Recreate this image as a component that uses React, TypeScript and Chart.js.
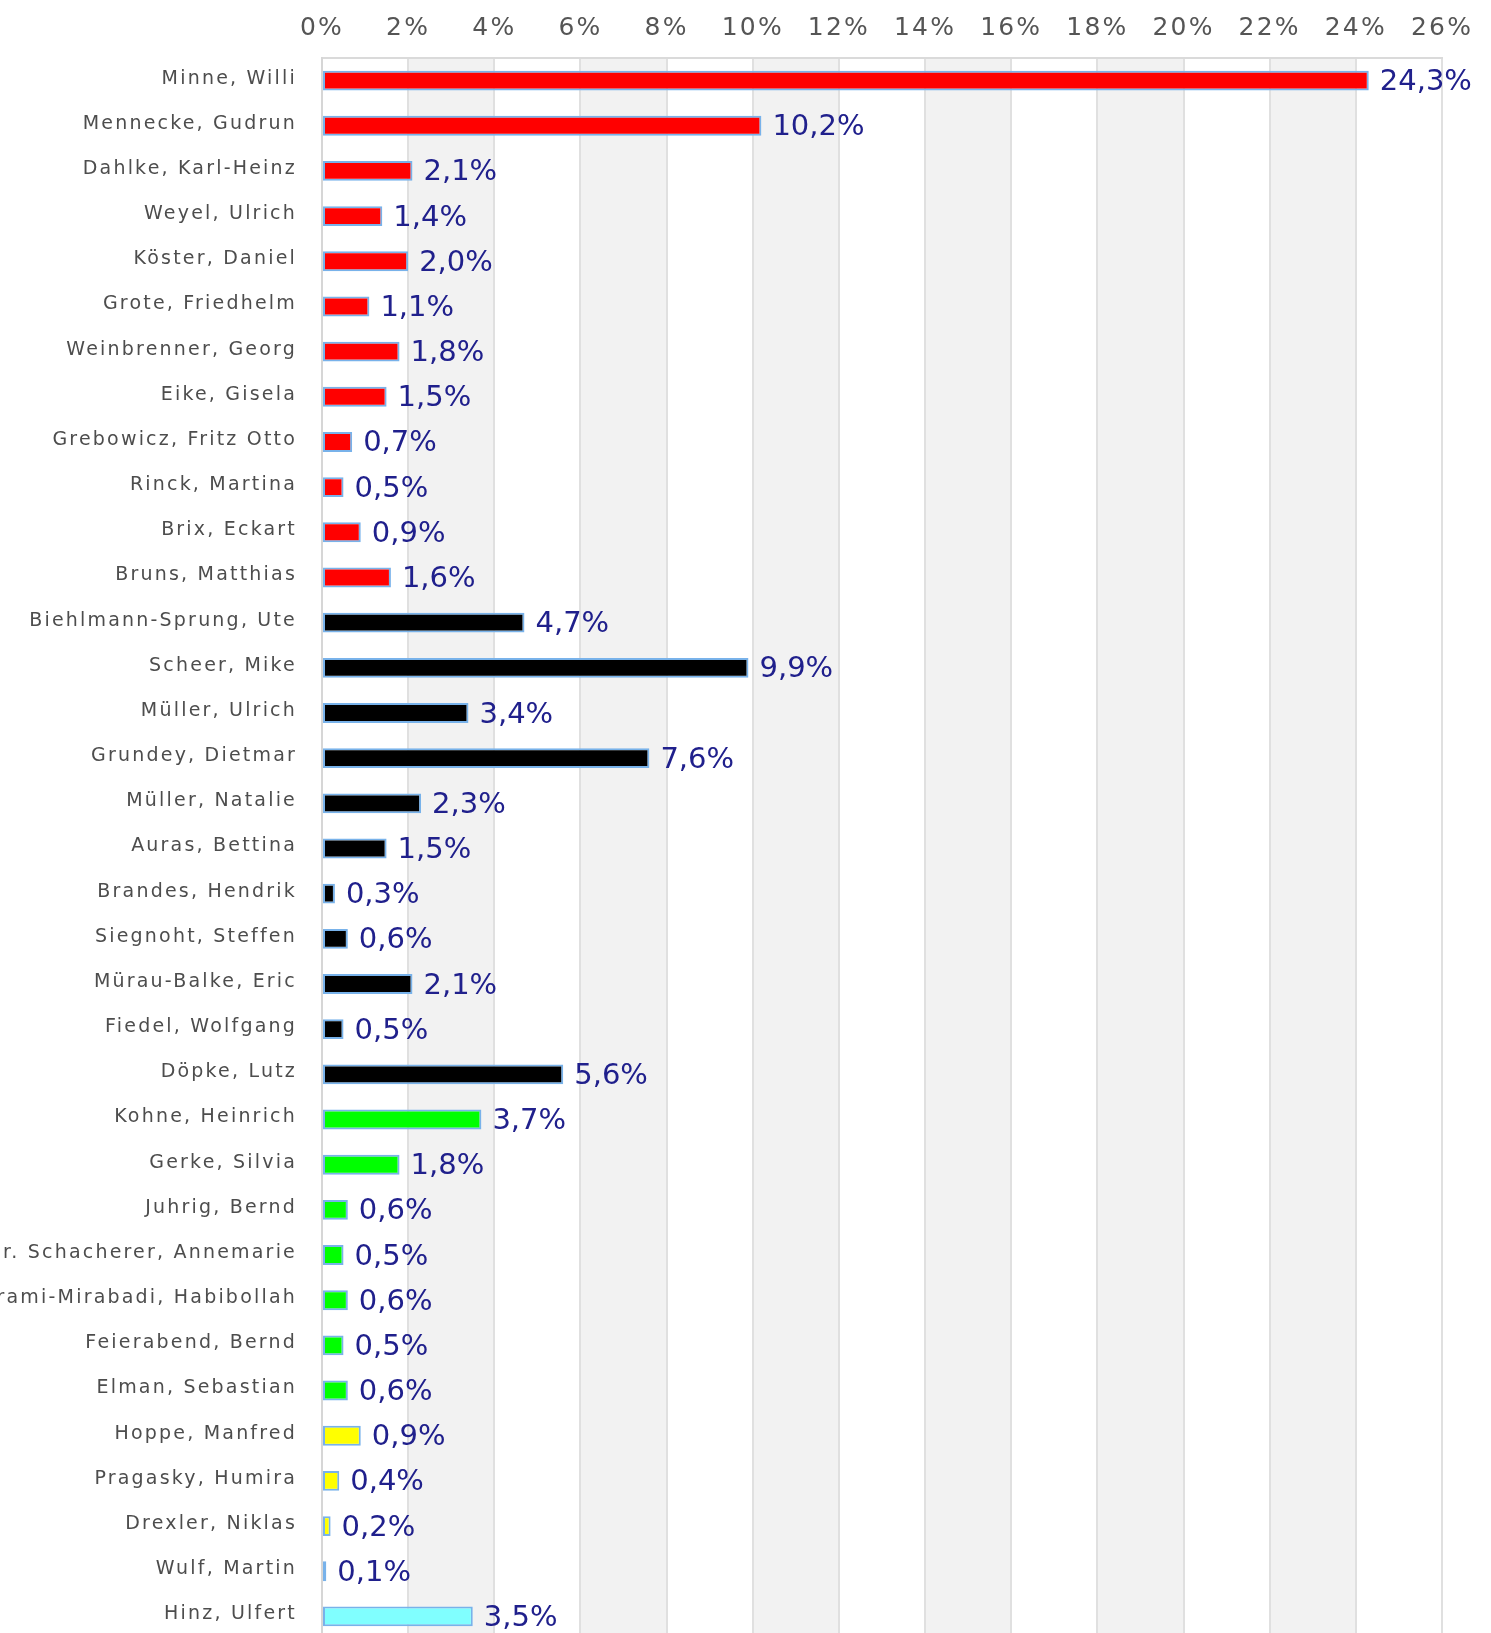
import React, { useEffect, useRef } from 'react';
import { Chart, registerables } from 'chart.js';

Chart.register(...registerables);

const categories: string[] = [
  'Minne, Willi',
  'Mennecke, Gudrun',
  'Dahlke, Karl-Heinz',
  'Weyel, Ulrich',
  'Köster, Daniel',
  'Grote, Friedhelm',
  'Weinbrenner, Georg',
  'Eike, Gisela',
  'Grebowicz, Fritz Otto',
  'Rinck, Martina',
  'Brix, Eckart',
  'Bruns, Matthias',
  'Biehlmann-Sprung, Ute',
  'Scheer, Mike',
  'Müller, Ulrich',
  'Grundey, Dietmar',
  'Müller, Natalie',
  'Auras, Bettina',
  'Brandes, Hendrik',
  'Siegnoht, Steffen',
  'Mürau-Balke, Eric',
  'Fiedel, Wolfgang',
  'Döpke, Lutz',
  'Kohne, Heinrich',
  'Gerke, Silvia',
  'Juhrig, Bernd',
  'Dr. Schacherer, Annemarie',
  'Bahrami-Mirabadi, Habibollah',
  'Feierabend, Bernd',
  'Elman, Sebastian',
  'Hoppe, Manfred',
  'Pragasky, Humira',
  'Drexler, Niklas',
  'Wulf, Martin',
  'Hinz, Ulfert',
];

const shares: number[] = [
  24.3, 10.2, 2.1, 1.4, 2.0, 1.1, 1.8, 1.5, 0.7, 0.5, 0.9, 1.6,
  4.7, 9.9, 3.4, 7.6, 2.3, 1.5, 0.3, 0.6, 2.1, 0.5, 5.6,
  3.7, 1.8, 0.6, 0.5, 0.6, 0.5, 0.6,
  0.9, 0.4, 0.2, 0.1,
  3.5,
];

const RED = '#ff0000';
const BLACK = '#000000';
const GREEN = '#00ff00';
const YELLOW = '#ffff00';
const CYAN = '#80ffff';

const barColors: string[] = [
  RED, RED, RED, RED, RED, RED, RED, RED, RED, RED, RED, RED,
  BLACK, BLACK, BLACK, BLACK, BLACK, BLACK, BLACK, BLACK, BLACK, BLACK, BLACK,
  GREEN, GREEN, GREEN, GREEN, GREEN, GREEN, GREEN,
  YELLOW, YELLOW, YELLOW, YELLOW,
  CYAN,
];

const xMin = 0;
const xMax = 26;
const xStep = 2;

const fmt = (v: number) => v.toFixed(1).replace('.', ',') + '%';

const chartPlugin = {
  id: 'customDecor',
  beforeDraw(chart: any) {
    const { ctx, chartArea, scales } = chart;
    const x = scales.x;
    ctx.save();
    ctx.fillStyle = '#f2f2f2';
    for (let v = xMin + xStep; v < xMax; v += 2 * xStep) {
      const a = x.getPixelForValue(v);
      const b = x.getPixelForValue(Math.min(v + xStep, xMax));
      ctx.fillRect(a, chartArea.top, b - a, chartArea.bottom - chartArea.top);
    }
    ctx.restore();
    ctx.letterSpacing = '2.2px';
  },
  beforeDatasetsDraw(chart: any) {
    chart.ctx.letterSpacing = '0px';
  },
  afterDatasetsDraw(chart: any) {
    const { ctx } = chart;
    const meta = chart.getDatasetMeta(0);
    ctx.save();
    ctx.letterSpacing = '0px';
    ctx.font = '29px "DejaVu Sans"';
    ctx.fillStyle = '#20208c';
    ctx.textAlign = 'left';
    ctx.textBaseline = 'middle';
    meta.data.forEach((bar: any, i: number) => {
      ctx.fillText(fmt(shares[i]), bar.x + 11, bar.y + 2);
    });
    ctx.restore();
  },
  afterDraw(chart: any) {
    chart.ctx.letterSpacing = '0px';
  },
};

export default function App() {
  const canvasRef = useRef<HTMLCanvasElement | null>(null);

  useEffect(() => {
    if (!canvasRef.current) return;
    const chart = new Chart(canvasRef.current, {
      type: 'bar',
      data: {
        labels: categories,
        datasets: [
          {
            data: shares,
            backgroundColor: barColors,
            borderColor: '#78b2ea',
            borderWidth: 2,
            borderSkipped: false,
            categoryPercentage: 1,
            barPercentage: 0.44,
          },
        ],
      },
      options: {
        indexAxis: 'y',
        animation: false,
        responsive: false,
        maintainAspectRatio: false,
        devicePixelRatio: 1,
        layout: { padding: { left: 0, right: 49, top: 0, bottom: 0 } },
        plugins: {
          legend: { display: false },
          tooltip: { enabled: false },
        },
        scales: {
          x: {
            position: 'top',
            min: xMin,
            max: xMax,
            afterFit: (s: any) => {
              s.height = 58;
              s.paddingLeft = 0;
              s.paddingRight = 0;
            },
            ticks: {
              stepSize: xStep,
              autoSkip: false,
              maxRotation: 0,
              padding: 15,
              color: '#555555',
              font: { family: '"DejaVu Sans"', size: 25 },
              callback: (v: any) => `${v}%`,
            },
            grid: {
              color: '#e0e0e0',
              lineWidth: 2,
              drawTicks: false,
            },
            border: { display: true, color: '#dadada', width: 2 },
          },
          y: {
            afterFit: (s: any) => {
              s.width = 322;
              s.paddingTop = 0;
              s.paddingBottom = 0;
            },
            ticks: {
              autoSkip: false,
              padding: 25,
              labelOffset: -2,
              color: '#4d4d4d',
              font: { family: '"DejaVu Sans"', size: 19 },
            },
            grid: { display: false, drawTicks: false },
            border: { display: true, color: '#d6d6d6', width: 2 },
          },
        },
      },
      plugins: [chartPlugin],
    } as any);
    return () => chart.destroy();
  }, []);

  return (
    <div
      style={{
        position: 'absolute',
        left: 0,
        top: 0,
        width: 1491,
        height: 1633,
        overflow: 'hidden',
        background: '#ffffff',
      }}
    >
      <canvas
        ref={canvasRef}
        width={1491}
        height={1639}
        style={{ display: 'block', width: 1491, height: 1639 }}
      />
    </div>
  );
}
